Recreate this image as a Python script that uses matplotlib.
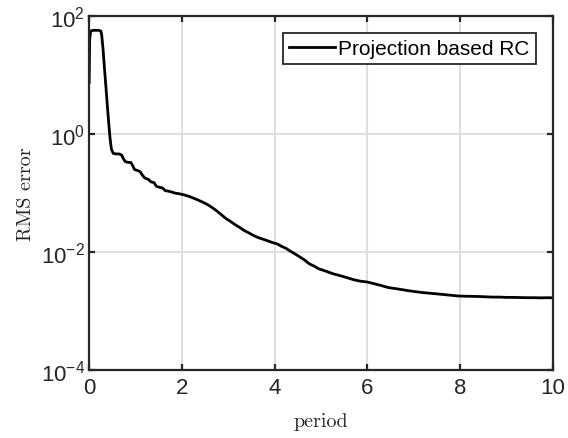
import matplotlib.pyplot as plt
import numpy as np

# RMS error of the projection based RC over training periods
period = [0.0, 0.01, 0.03, 0.06, 0.12, 0.2, 0.25, 0.27, 0.30, 0.33, 0.36, 0.39,
          0.42, 0.45, 0.48, 0.52, 0.58, 0.65, 0.70, 0.74, 0.78, 0.85, 0.90,
          0.94, 0.98, 1.05, 1.10, 1.15, 1.20, 1.28, 1.33, 1.40, 1.45, 1.52,
          1.58, 1.64, 1.70, 1.78, 1.85, 1.95, 2.05, 2.15, 2.25, 2.35, 2.45,
          2.55, 2.65, 2.75, 2.85, 2.95, 3.05, 3.15, 3.25, 3.35, 3.45, 3.55,
          3.65, 3.75, 3.85, 3.95, 4.05, 4.15, 4.25, 4.35, 4.45, 4.55, 4.65,
          4.75, 4.85, 4.95, 5.05, 5.15, 5.25, 5.35, 5.45, 5.55, 5.70, 5.85,
          6.0, 6.15, 6.3, 6.45, 6.6, 6.75, 6.9, 7.05, 7.2, 7.35, 7.5, 7.65,
          7.8, 7.95, 8.1, 8.25, 8.4, 8.55, 8.7, 8.85, 9.0, 9.15, 9.3, 9.45,
          9.6, 9.75, 9.9, 10.0]
rms_error = [7.5, 40, 55, 57, 57.5, 57.5, 56, 48, 27, 13, 6.5, 3.2,
             1.6, 0.85, 0.55, 0.47, 0.46, 0.46, 0.44, 0.38, 0.34, 0.33, 0.33,
             0.29, 0.25, 0.24, 0.23, 0.20, 0.18, 0.17, 0.155, 0.150, 0.13, 0.125,
             0.122, 0.110, 0.108, 0.104, 0.100, 0.097, 0.093, 0.088, 0.082, 0.076, 0.070,
             0.064, 0.057, 0.050, 0.043, 0.037, 0.033, 0.029, 0.026, 0.023, 0.021, 0.019,
             0.0175, 0.0165, 0.0155, 0.0145, 0.0138, 0.0125, 0.0115, 0.0102, 0.0092, 0.0082, 0.0073,
             0.0063, 0.0058, 0.0052, 0.0049, 0.0046, 0.0043, 0.0041, 0.0039, 0.0037, 0.0034, 0.0032,
             0.0031, 0.0029, 0.0027, 0.0025, 0.0024, 0.0023, 0.0022, 0.00212, 0.00205, 0.002, 0.00195, 0.0019,
             0.00185, 0.0018, 0.00178, 0.00177, 0.00176, 0.00174, 0.00172, 0.00172, 0.0017, 0.0017, 0.00169, 0.00168,
             0.00168, 0.00167, 0.00168, 0.00167]

plt.rcParams["mathtext.fontset"] = "custom"
plt.rcParams["mathtext.rm"] = "Liberation Sans"
plt.rcParams["mathtext.it"] = "Liberation Sans"
plt.rcParams["font.family"] = "Liberation Sans"

fig = plt.figure(figsize=(5.68, 4.39), dpi=100)
ax = fig.add_axes([0.157, 0.155, 0.816, 0.806])

ax.plot(period, rms_error, color="black", linewidth=2, label="Projection based RC")
ax.set_yscale("log")
ax.set_xlim(0, 10)
ax.set_ylim(1e-4, 1e2)
ax.set_xticks([0, 2, 4, 6, 8, 10])
ax.set_yticks([1e-4, 1e-2, 1e0, 1e2])
ax.set_yticklabels([r"$10^{-4}$", r"$10^{-2}$", r"$10^{0}$", r"$10^{2}$"])
ax.minorticks_off()

ax.grid(True, color="#dedede", linewidth=1.5)
ax.set_axisbelow(True)
for s in ax.spines.values():
    s.set_linewidth(1.6)
    s.set_color("#262626")
ax.tick_params(direction="in", length=4, width=1.6, top=True, right=True,
               labelsize=16, colors="#262626")
ax.tick_params(axis="x", pad=5)
ax.tick_params(axis="y", pad=3)

ax.set_xlabel("period", fontfamily="cmr10", fontsize=14.5, color="#262626",
              labelpad=10)
ax.set_ylabel("RMS error", fontfamily="cmr10", fontsize=14.5, color="#262626",
              labelpad=4)

leg = ax.legend(loc="upper right", fontsize=15, fancybox=False,
                edgecolor="#262626", framealpha=1, borderpad=0.3,
                handlelength=2.2, handletextpad=0.15, borderaxespad=0.8)
leg.get_frame().set_linewidth(1.3)

fig.savefig("out.png", dpi=100)
